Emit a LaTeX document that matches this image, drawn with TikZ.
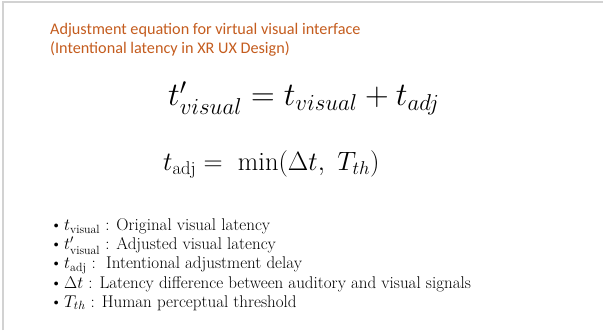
\RequirePackage{fix-cm}
\documentclass[tikz,border=0pt]{standalone}
\usepackage{fontspec}
\usepackage{amsmath}
\newfontfamily\titlefont{Carlito}
\definecolor{titleorange}{RGB}{196,92,30}
\definecolor{framegray}{RGB}{210,210,210}

\begin{document}
\begin{tikzpicture}
    [x=1pt,y=-1pt,
      title/.style={anchor=base west,inner sep=0pt,text=titleorange,font=\titlefont\fontsize{16.2}{18}\selectfont},
      bigeq/.style={anchor=base west,inner sep=0pt,font=\fontsize{32.8}{36}\selectfont},
      mideq/.style={anchor=base west,inner sep=0pt,font=\fontsize{26.5}{30}\selectfont},
      item/.style={anchor=base west,inner sep=0pt,font=\fontsize{17}{18}\selectfont}
    ]
    \useasboundingbox (0,0) rectangle (603,334);
    % slide frame
    \draw [framegray,line width=1.2pt] (3,330) coordinate (fb) -- (3,2) coordinate (fc) -- (603,2) coordinate (fr);
    % title
    \node [title] (t1) at (50,35) {Adjustment equation for virtual visual interface};
    \node [title] (t2) at (50,54) {(Intentional latency in XR UX Design)};
    % equations
    \node [bigeq] (eq1) at (168,106) {$t'_{visual} = t_{visual} + t_{adj}$};
    \node [mideq] (eq2) at (163,171) {$t_{\mathrm{adj}} = \ \min(\Delta t,\ T_{th})$};
    % bullet list
    \foreach \txt [count=\i] in {%
        {$t_{\mathrm{visual}}$ : Original visual latency},
        {$t'_{\mathrm{visual}}$ : Adjusted visual latency},
        {$t_{\mathrm{adj}}$ :\ \ Intentional adjustment delay},
        {$\Delta t$ : Latency difference between auditory and visual signals},
        {$T_{th}$ : Human perceptual threshold}}
      {
        \node [item] (b\i) at (50,212+19*\i) {\textbullet};
        \node [item] (l\i) at (64,212+19*\i) {\txt};
      }
  \end{tikzpicture}
\end{document}
